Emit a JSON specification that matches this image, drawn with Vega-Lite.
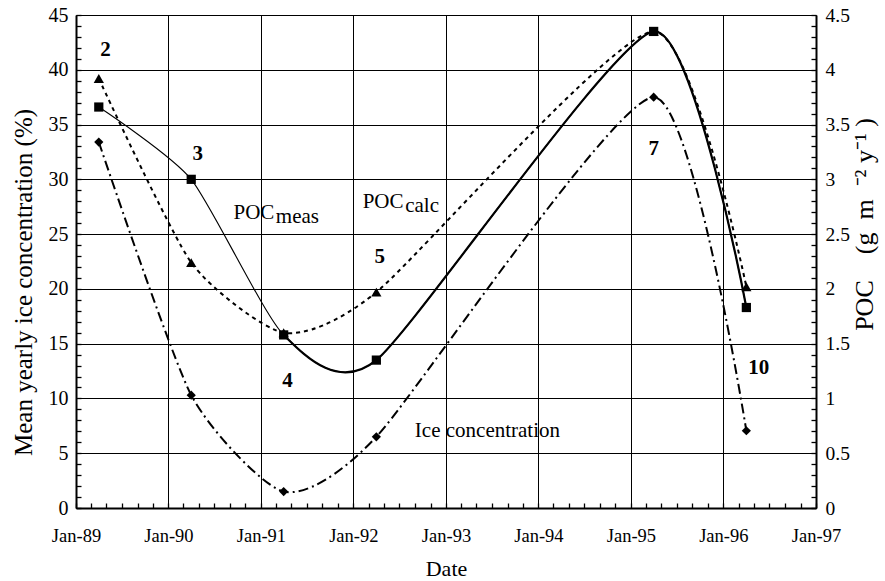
{
  "$schema": "https://vega.github.io/schema/vega-lite/v6.json",
  "width": 740,
  "height": 493,
  "autosize": "none",
  "padding": {"left": 76, "top": 15, "right": 69, "bottom": 73},
  "background": "white",
  "config": {
    "view": {"stroke": null},
    "font": "Liberation Serif",
    "axis": {"labelFont": "Liberation Serif", "titleFont": "Liberation Serif", "labelColor": "black", "titleColor": "black", "titleFontWeight": "normal", "domainColor": "black", "tickColor": "black", "gridColor": "black"}
  },
  "datasets": {
    "ice": [
      {"date": "1989-04-01T00:00:00", "value": 33.4},
      {"date": "1990-04-01T00:00:00", "value": 10.3},
      {"date": "1991-04-01T00:00:00", "value": 1.5},
      {"date": "1992-04-01T00:00:00", "value": 6.5},
      {"date": "1995-04-01T00:00:00", "value": 37.5},
      {"date": "1996-04-01T00:00:00", "value": 7.05}
    ],
    "meas": [
      {"date": "1989-04-01T00:00:00", "poc": 3.66},
      {"date": "1990-04-01T00:00:00", "poc": 3.0},
      {"date": "1991-04-01T00:00:00", "poc": 1.58},
      {"date": "1992-04-01T00:00:00", "poc": 1.35},
      {"date": "1995-04-01T00:00:00", "poc": 4.35},
      {"date": "1996-04-01T00:00:00", "poc": 1.83}
    ],
    "calc": [
      {"date": "1989-04-01T00:00:00", "poc": 3.92},
      {"date": "1990-04-01T00:00:00", "poc": 2.24},
      {"date": "1991-04-01T00:00:00", "poc": 1.6},
      {"date": "1992-04-01T00:00:00", "poc": 1.97},
      {"date": "1995-04-01T00:00:00", "poc": 4.35},
      {"date": "1996-04-01T00:00:00", "poc": 2.02}
    ],
    "nums": [
      {"date": "1989-04-27T00:00:00", "value": 41.3, "label": "2"},
      {"date": "1990-04-27T00:00:00", "value": 31.75, "label": "3"},
      {"date": "1991-04-16T00:00:00", "value": 11.0, "label": "4"},
      {"date": "1992-04-14T00:00:00", "value": 22.4, "label": "5"},
      {"date": "1995-04-01T00:00:00", "value": 32.2, "label": "7"},
      {"date": "1996-05-20T00:00:00", "value": 12.2, "label": "10"}
    ],
    "texts": [
      {"date": "1990-09-15T00:00:00", "value": 26.4, "label": "POC"},
      {"date": "1991-03-01T00:00:00", "value": 26.0, "label": "meas"},
      {"date": "1992-02-07T00:00:00", "value": 27.4, "label": "POC"},
      {"date": "1992-07-24T00:00:00", "value": 27.0, "label": "calc"},
      {"date": "1992-08-31T00:00:00", "value": 6.45, "label": "Ice concentration"}
    ]
  },
  "layer": [
    {
      "layer": [
        {
          "data": {"name": "ice"},
          "mark": {"type": "line", "interpolate": "cardinal", "tension": 0.37, "color": "black", "strokeWidth": 2, "strokeDash": [10, 4, 2, 4]},
          "encoding": {
            "x": {
              "field": "date", "type": "temporal",
              "scale": {"domain": [{"year": 1989, "month": 1, "date": 1}, {"year": 1997, "month": 1, "date": 1}], "nice": false},
              "axis": {
                "values": [
                  {"year": 1989, "month": 1, "date": 1}, {"year": 1989, "month": 3, "date": 1}, {"year": 1989, "month": 5, "date": 1}, {"year": 1989, "month": 7, "date": 1}, {"year": 1989, "month": 9, "date": 1}, {"year": 1989, "month": 11, "date": 1},
                  {"year": 1990, "month": 1, "date": 1}, {"year": 1990, "month": 3, "date": 1}, {"year": 1990, "month": 5, "date": 1}, {"year": 1990, "month": 7, "date": 1}, {"year": 1990, "month": 9, "date": 1}, {"year": 1990, "month": 11, "date": 1},
                  {"year": 1991, "month": 1, "date": 1}, {"year": 1991, "month": 3, "date": 1}, {"year": 1991, "month": 5, "date": 1}, {"year": 1991, "month": 7, "date": 1}, {"year": 1991, "month": 9, "date": 1}, {"year": 1991, "month": 11, "date": 1},
                  {"year": 1992, "month": 1, "date": 1}, {"year": 1992, "month": 3, "date": 1}, {"year": 1992, "month": 5, "date": 1}, {"year": 1992, "month": 7, "date": 1}, {"year": 1992, "month": 9, "date": 1}, {"year": 1992, "month": 11, "date": 1},
                  {"year": 1993, "month": 1, "date": 1}, {"year": 1993, "month": 3, "date": 1}, {"year": 1993, "month": 5, "date": 1}, {"year": 1993, "month": 7, "date": 1}, {"year": 1993, "month": 9, "date": 1}, {"year": 1993, "month": 11, "date": 1},
                  {"year": 1994, "month": 1, "date": 1}, {"year": 1994, "month": 3, "date": 1}, {"year": 1994, "month": 5, "date": 1}, {"year": 1994, "month": 7, "date": 1}, {"year": 1994, "month": 9, "date": 1}, {"year": 1994, "month": 11, "date": 1},
                  {"year": 1995, "month": 1, "date": 1}, {"year": 1995, "month": 3, "date": 1}, {"year": 1995, "month": 5, "date": 1}, {"year": 1995, "month": 7, "date": 1}, {"year": 1995, "month": 9, "date": 1}, {"year": 1995, "month": 11, "date": 1},
                  {"year": 1996, "month": 1, "date": 1}, {"year": 1996, "month": 3, "date": 1}, {"year": 1996, "month": 5, "date": 1}, {"year": 1996, "month": 7, "date": 1}, {"year": 1996, "month": 9, "date": 1}, {"year": 1996, "month": 11, "date": 1},
                  {"year": 1997, "month": 1, "date": 1}
                ],
                "tickCount": 1000,
                "labelExpr": "month(datum.value) == 0 ? timeFormat(datum.value, '%b-%y') : ''",
                "grid": true,
                "gridWidth": 1,
                "gridOpacity": {"condition": {"test": "month(datum.value) == 0", "value": 1}, "value": 0},
                "tickSize": -5,
                "tickWidth": 1.3,
                "domainWidth": 2,
                "labelFontSize": 18.5,
                "labelPadding": 23,
                "labelFlush": false,
                "labelOverlap": false,
                "title": "Date",
                "titleFontSize": 22,
                "titlePadding": 14
              }
            },
            "y": {
              "field": "value", "type": "quantitative",
              "scale": {"domain": [0, 45], "nice": false, "zero": true},
              "axis": {
                "values": [0,1,2,3,4,5,6,7,8,9,10,11,12,13,14,15,16,17,18,19,20,21,22,23,24,25,26,27,28,29,30,31,32,33,34,35,36,37,38,39,40,41,42,43,44,45],
                "tickCount": 1000,
                "labelExpr": "datum.value % 5 == 0 ? format(datum.value, 'd') : ''",
                "grid": true,
                "gridWidth": 1,
                "gridOpacity": {"condition": {"test": "datum.value % 5 == 0", "value": 1}, "value": 0},
                "tickSize": -5,
                "tickWidth": 1.3,
                "domainWidth": 2,
                "labelFontSize": 20,
                "labelPadding": 13,
                "labelOverlap": false,
                "labelFlush": false,
                "title": "Mean yearly ice concentration (%)",
                "titleFontSize": 25,
                "titlePadding": 12,
                "titleY": 267
              }
            }
          }
        },
        {
          "data": {"name": "ice"},
          "mark": {"type": "point", "shape": "diamond", "filled": true, "color": "black", "size": 85, "opacity": 1},
          "encoding": {
            "x": {"field": "date", "type": "temporal"},
            "y": {"field": "value", "type": "quantitative"}
          }
        },
        {
          "data": {"name": "nums"},
          "mark": {"type": "text", "font": "Liberation Serif", "fontSize": 21, "fontWeight": "bold", "align": "center", "baseline": "alphabetic", "color": "black"},
          "encoding": {
            "x": {"field": "date", "type": "temporal"},
            "y": {"field": "value", "type": "quantitative"},
            "text": {"field": "label"}
          }
        },
        {
          "data": {"name": "texts"},
          "mark": {"type": "text", "font": "Liberation Serif", "fontSize": 21, "align": "left", "baseline": "alphabetic", "color": "black"},
          "encoding": {
            "x": {"field": "date", "type": "temporal"},
            "y": {"field": "value", "type": "quantitative"},
            "text": {"field": "label"}
          }
        }
      ]
    },
    {
      "layer": [
        {
          "data": {"name": "calc"},
          "mark": {"type": "line", "interpolate": "cardinal", "tension": 0.37, "color": "black", "strokeWidth": 2, "strokeDash": [4, 4]},
          "encoding": {
            "x": {"field": "date", "type": "temporal"},
            "y": {
              "field": "poc", "type": "quantitative",
              "scale": {"domain": [0, 4.5], "nice": false, "zero": true},
              "axis": {
                "orient": "right",
                "values": [0,0.1,0.2,0.3,0.4,0.5,0.6,0.7,0.8,0.9,1,1.1,1.2,1.3,1.4,1.5,1.6,1.7,1.8,1.9,2,2.1,2.2,2.3,2.4,2.5,2.6,2.7,2.8,2.9,3,3.1,3.2,3.3,3.4,3.5,3.6,3.7,3.8,3.9,4,4.1,4.2,4.3,4.4,4.5],
                "tickCount": 1000,
                "labelExpr": "abs(datum.value * 2 - round(datum.value * 2)) < 0.001 ? format(datum.value, '~g') : ''",
                "grid": false,
                "tickSize": -5,
                "tickWidth": 1.3,
                "domainWidth": 2,
                "labelFontSize": 19.5,
                "labelPadding": 14,
                "labelOverlap": false,
                "labelFlush": false,
                "title": "POC\u2003(g\u2002m\u2002⁻²\u2005y⁻¹\u2005)",
                "titleFontSize": 26,
                "titleAngle": 270,
                "titleBaseline": "top",
                "titlePadding": 2,
                "titleY": 209
              }
            }
          }
        },
        {
          "data": {"name": "meas"},
          "mark": {"type": "line", "interpolate": "cardinal", "tension": 0.37, "color": "black", "strokeWidth": 1.1},
          "encoding": {
            "x": {"field": "date", "type": "temporal"},
            "y": {"field": "poc", "type": "quantitative"}
          }
        },
        {
          "data": {"name": "meas"},
          "mark": {"type": "line", "interpolate": "cardinal", "tension": 0.37, "color": "black", "strokeWidth": 2.2, "strokeDash": [0, 302, 4000, 0]},
          "encoding": {
            "x": {"field": "date", "type": "temporal"},
            "y": {"field": "poc", "type": "quantitative"}
          }
        },
        {
          "data": {"name": "calc"},
          "mark": {"type": "point", "shape": "triangle-up", "filled": true, "color": "black", "size": 105, "opacity": 1},
          "encoding": {
            "x": {"field": "date", "type": "temporal"},
            "y": {"field": "poc", "type": "quantitative"}
          }
        },
        {
          "data": {"name": "meas"},
          "mark": {"type": "point", "shape": "square", "filled": true, "color": "black", "size": 85, "opacity": 1},
          "encoding": {
            "x": {"field": "date", "type": "temporal"},
            "y": {"field": "poc", "type": "quantitative"}
          }
        }
      ]
    }
  ],
  "resolve": {"scale": {"y": "independent"}}
}
